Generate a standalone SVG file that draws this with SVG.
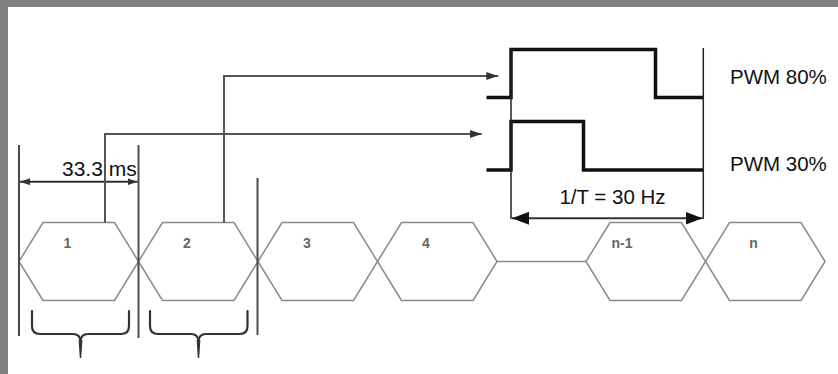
<svg xmlns="http://www.w3.org/2000/svg" width="838" height="374" viewBox="0 0 838 374">
  <style>
    .hex { fill: none; stroke: #8a8a8a; stroke-width: 1.5; stroke-linejoin: miter; }
    .hexlabel { font-family: "Liberation Sans", Arial, sans-serif; font-size: 14px; font-weight: bold; fill: #666; text-anchor: middle; }
    .label { font-family: "Liberation Sans", Arial, sans-serif; fill: #111; }
    .marker-line { stroke: #4a4a4a; stroke-width: 2; fill: none; }
    .conn { stroke: #555; stroke-width: 2; fill: none; }
    .wave { stroke: #111; stroke-width: 3.5; fill: none; stroke-linejoin: miter; }
    .thin { stroke: #222; stroke-width: 1.5; fill: none; }
    .brace { stroke: #333; stroke-width: 2.2; fill: none; stroke-linecap: round; }
    .dim { stroke: #333; stroke-width: 2; fill: none; }
  </style>
  <defs>
    <marker id="arrowSmall" viewBox="0 0 12 8" refX="12" refY="4" markerUnits="userSpaceOnUse" markerWidth="12" markerHeight="8" orient="auto-start-reverse">
      <path d="M0,0 L12,4 L0,8 Z" fill="#333"/>
    </marker>
    <marker id="arrowDim" viewBox="0 0 10 7" refX="10" refY="3.5" markerUnits="userSpaceOnUse" markerWidth="10" markerHeight="7" orient="auto-start-reverse">
      <path d="M0,0 L10,3.5 L0,7 Z" fill="#333"/>
    </marker>
    <marker id="arrowBig" viewBox="0 0 17 13" refX="17" refY="6.5" markerUnits="userSpaceOnUse" markerWidth="17" markerHeight="13" orient="auto-start-reverse">
      <path d="M0,0 L17,6.5 L0,13 Z" fill="#111"/>
    </marker>
  </defs>

  <!-- page and frame -->
  <rect x="0" y="0" width="838" height="374" fill="#ffffff"/>
  <rect x="0" y="0" width="838" height="7" fill="#808080"/>
  <rect x="0" y="0" width="8" height="374" fill="#808080"/>

  <!-- frame sequence -->
  <g id="frame-1">
    <path class="hex" d="M19,261.5 L43,222.5 H114.5 L138.5,261.5 L114.5,300.5 H43 Z"/>
    <text class="hexlabel" x="67.5" y="247.5">1</text>
  </g>
  <g id="frame-2">
    <path class="hex" d="M138.5,261.5 L162.5,222.5 H234 L258,261.5 L234,300.5 H162.5 Z"/>
    <text class="hexlabel" x="187" y="247.5">2</text>
  </g>
  <g id="frame-3">
    <path class="hex" d="M258,261.5 L282,222.5 H353.5 L377.5,261.5 L353.5,300.5 H282 Z"/>
    <text class="hexlabel" x="307" y="247.5">3</text>
  </g>
  <g id="frame-4">
    <path class="hex" d="M377.5,261.5 L401.5,222.5 H473 L497,261.5 L473,300.5 H401.5 Z"/>
    <text class="hexlabel" x="426" y="247.5">4</text>
  </g>
  <g id="frame-n-1">
    <path class="hex" d="M586,261.5 L610,222.5 H681.5 L705.5,261.5 L681.5,300.5 H610 Z"/>
    <text class="hexlabel" x="622" y="247.5">n-1</text>
  </g>
  <g id="frame-n">
    <path class="hex" d="M705.5,261.5 L729.5,222.5 H801 L825,261.5 L801,300.5 H729.5 Z"/>
    <text class="hexlabel" x="753.5" y="247.5">n</text>
  </g>

  <!-- frame boundaries and period dimension -->
  <g id="period">
    <line class="marker-line" x1="19" y1="145" x2="19" y2="336"/>
    <line class="marker-line" x1="138.5" y1="145" x2="138.5" y2="338"/>
    <line class="marker-line" x1="257.5" y1="178" x2="257.5" y2="335"/>
    <line class="dim" x1="20" y1="181.7" x2="137.5" y2="181.7" marker-start="url(#arrowDim)" marker-end="url(#arrowDim)"/>
    <text class="label" x="62" y="176" font-size="21">33.3 ms</text>
  </g>

  <!-- braces under frames 1 and 2 -->
  <g id="brace-1">
    <path class="brace" d="M32,311 V326 Q32,334 40,334 H73 Q80.5,334 80.5,342 M129,311 V326 Q129,334 121,334 H88 Q80.5,334 80.5,342"/>
    <path d="M78.6,340 L82.4,340 L81.2,358 L79.8,358 Z" fill="#333"/>
  </g>
  <g id="brace-2">
    <path class="brace" d="M150,311 V326 Q150,334 158,334 H191 Q198.5,334 198.5,342 M247.5,311 V326 Q247.5,334 239.5,334 H206 Q198.5,334 198.5,342"/>
    <path d="M196.6,340 L200.4,340 L199.2,358 L197.8,358 Z" fill="#333"/>
  </g>

  <!-- PWM outputs -->
  <g id="pwm-80">
    <path class="wave" d="M486.5,97.5 H511 V49.5 H655.5 V97.5 H703"/>
    <text class="label" x="730" y="84" font-size="20.5">PWM 80%</text>
  </g>
  <g id="pwm-30">
    <path class="wave" d="M486.5,170 H511 V121.5 H583.5 V170 H703"/>
    <text class="label" x="730" y="171" font-size="20.5">PWM 30%</text>
  </g>

  <!-- PWM period dimension -->
  <g id="pwm-period">
    <line class="thin" x1="511" y1="49" x2="511" y2="219"/>
    <line class="thin" x1="703.3" y1="48" x2="703.3" y2="219"/>
    <line class="dim" x1="512" y1="218.3" x2="702.5" y2="218.3" stroke="#111" marker-start="url(#arrowBig)" marker-end="url(#arrowBig)"/>
    <text class="label" x="612.5" y="204" font-size="20.5" text-anchor="middle">1/T = 30 Hz</text>
  </g>

  <!-- connectors: frames to PWM outputs, and the elided frames between 4 and n-1 -->
  <g id="connectors">
    <path class="conn" d="M105,222.5 V134 H481.7" marker-end="url(#arrowSmall)"/>
    <path class="conn" d="M224,222.5 V76 H498.3" marker-end="url(#arrowSmall)"/>
    <line class="hex" x1="497" y1="261.5" x2="586" y2="261.5"/>
  </g>
</svg>
